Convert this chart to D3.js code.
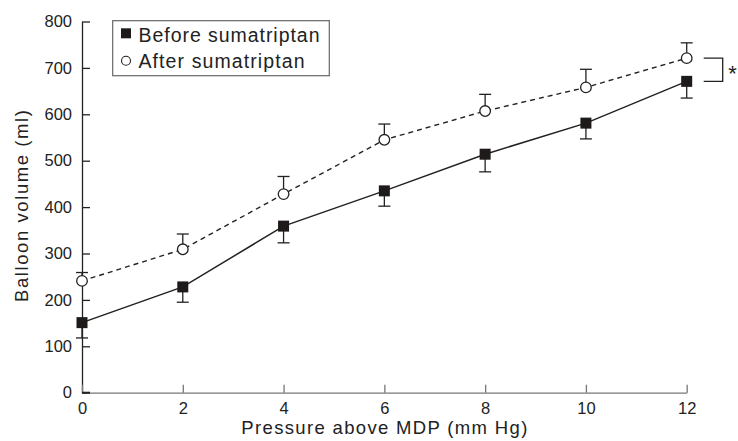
<!DOCTYPE html>
<html>
<head>
<meta charset="utf-8">
<script src="https://cdn.jsdelivr.net/npm/d3@7"></script>
<style>
    body { margin: 0; background: #fff; }
    svg { display: block; font-family: "Liberation Sans", Arial, sans-serif; }
</style>
</head>
<body>
<svg id="chart" width="738" height="441"></svg>
<script>
const pressure = [0, 2, 4, 6, 8, 10, 12];
const beforeMean = [151, 228, 359, 435, 514, 581, 671];
const beforeSE = [33, 33, 36, 33, 38, 34, 36];
const afterMean = [241, 309, 428, 545, 607, 658, 721];
const afterSE = [18, 33, 38, 34, 36, 39, 33];
const xTicks = [0, 2, 4, 6, 8, 10, 12];
const yTicks = [0, 100, 200, 300, 400, 500, 600, 700, 800];
const legendLabels = ["Before sumatriptan", "After sumatriptan"];

const svg = d3.select("#chart");
const x = d3.scaleLinear().domain([0, 12]).range([82, 686.7]);
const y = d3.scaleLinear().domain([0, 800]).range([392.7, 21.5]);

// axes, ticks pointing inward
const yAxis = svg.append("g")
    .attr("transform", "translate(" + x(0) + ",0)")
    .call(d3.axisLeft(y).tickValues(yTicks).tickSizeInner(-8).tickSizeOuter(0).tickPadding(10));
yAxis.selectAll("path, line").attr("stroke", "#222").attr("stroke-width", 1.3);
yAxis.selectAll("text").attr("font-size", 16.5).attr("fill", "#222")
    .attr("font-family", "Liberation Sans, Arial, sans-serif");

const xAxis = svg.append("g")
    .attr("transform", "translate(0," + y(0) + ")")
    .call(d3.axisBottom(x).tickValues(xTicks).tickSizeInner(-8).tickSizeOuter(0).tickPadding(9.5));
xAxis.selectAll("path, line").attr("stroke", "#777").attr("stroke-width", 1.3);
xAxis.selectAll("text").attr("font-size", 16.5).attr("fill", "#222")
    .attr("font-family", "Liberation Sans, Arial, sans-serif");

// zero corner drawn dark like the y axis
svg.append("line")
    .attr("x1", x(0)).attr("x2", x(0) + 8)
    .attr("y1", y(0)).attr("y2", y(0))
    .attr("stroke", "#222").attr("stroke-width", 2);

svg.append("text")
    .attr("x", (x(0) + x(12)) / 2).attr("y", 433.5)
    .attr("text-anchor", "middle").attr("font-size", 18.5).attr("fill", "#222")
    .attr("textLength", 286).attr("lengthAdjust", "spacing")
    .text("Pressure above MDP (mm Hg)");

svg.append("text")
    .attr("transform", "translate(28,206) rotate(-90)")
    .attr("text-anchor", "middle").attr("font-size", 18.5).attr("fill", "#222")
    .attr("textLength", 192).attr("lengthAdjust", "spacing")
    .text("Balloon volume (ml)");

const before = pressure.map((p, i) => ({p: p, v: beforeMean[i], e: beforeSE[i]}));
const after = pressure.map((p, i) => ({p: p, v: afterMean[i], e: afterSE[i]}));
const line = d3.line().x(d => x(d.p)).y(d => y(d.v));

// error bars: before goes down, after goes up
function errorBars(data, dir) {
    const g = svg.append("g").attr("stroke", "#222").attr("stroke-width", 1.3);
    data.forEach(d => {
        const end = y(d.v + dir * d.e);
        g.append("line").attr("x1", x(d.p)).attr("x2", x(d.p))
            .attr("y1", y(d.v)).attr("y2", end);
        g.append("line").attr("x1", x(d.p) - 6).attr("x2", x(d.p) + 6)
            .attr("y1", end).attr("y2", end);
    });
}
errorBars(before, -1);
errorBars(after, 1);

svg.append("path")
    .datum(after)
    .attr("d", line)
    .attr("fill", "none")
    .attr("stroke", "#222")
    .attr("stroke-width", 1.4)
    .attr("stroke-dasharray", "5,4");

svg.append("path")
    .datum(before)
    .attr("d", line)
    .attr("fill", "none")
    .attr("stroke", "#222")
    .attr("stroke-width", 1.5);

svg.append("g").selectAll("rect")
    .data(before)
    .join("rect")
    .attr("x", d => x(d.p) - 5.5)
    .attr("y", d => y(d.v) - 5.5)
    .attr("width", 11).attr("height", 11)
    .attr("fill", "#1e1a1a");

svg.append("g").selectAll("circle")
    .data(after)
    .join("circle")
    .attr("cx", d => x(d.p))
    .attr("cy", d => y(d.v))
    .attr("r", 5.3)
    .attr("fill", "#fff")
    .attr("stroke", "#222")
    .attr("stroke-width", 1.3);

// significance bracket at 12 mm Hg
const bx = x(12) + 36;
const bTop = y(afterMean[6]);
const bBot = y(beforeMean[6]);
svg.append("path")
    .attr("d", "M" + (x(12) + 17) + "," + bTop + "H" + bx + "V" + bBot + "H" + (x(12) + 17))
    .attr("fill", "none").attr("stroke", "#222").attr("stroke-width", 1.3);
svg.append("text")
    .attr("x", bx + 5.5).attr("y", (bTop + bBot) / 2 + 11)
    .attr("font-size", 22).attr("fill", "#222")
    .text("*");

// legend
const legend = svg.append("g");
legend.append("rect")
    .attr("x", 112.7).attr("y", 20.7)
    .attr("width", 216.6).attr("height", 55)
    .attr("fill", "#fff").attr("stroke", "#666").attr("stroke-width", 1.2);
legend.append("rect")
    .attr("x", 121).attr("y", 28.3)
    .attr("width", 10).attr("height", 10)
    .attr("fill", "#1e1a1a");
legend.append("circle")
    .attr("cx", 126).attr("cy", 60.7).attr("r", 4.5)
    .attr("fill", "#fff").attr("stroke", "#222").attr("stroke-width", 1.1);
const legendLengths = [181, 166];
legend.selectAll("text.lab")
    .data(legendLabels)
    .join("text")
    .attr("class", "lab")
    .attr("x", 138.5)
    .attr("y", (d, i) => 41.8 + i * 26.4)
    .attr("font-size", 19.5).attr("fill", "#222")
    .attr("textLength", (d, i) => legendLengths[i]).attr("lengthAdjust", "spacing")
    .text(d => d);
</script>
</body>
</html>
